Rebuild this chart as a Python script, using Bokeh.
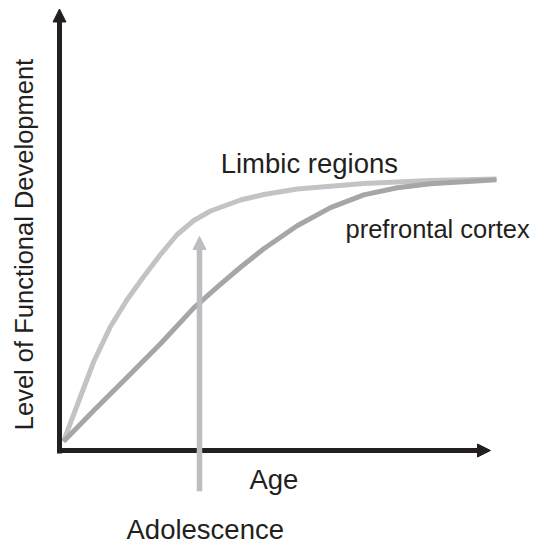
import math
from bokeh.plotting import figure
from bokeh.models import Range1d, Arrow, NormalHead, ColumnDataSource
from bokeh.core.properties import value
from bokeh.embed import file_html
from bokeh.resources import INLINE

# ---- data (age 0-100, level of functional development 0-100) ----
limbic_age = [0.93, 4.87, 7.96, 11.83, 15.71, 19.56, 23.43, 27.31, 31.16, 35.04,
              42.0, 47.4, 55.15, 70.6, 86.08, 101.39]
limbic_dev = [2.04, 12.23, 20.16, 28.09, 34.2, 39.41, 44.39, 48.92, 52.09, 54.25,
              56.74, 57.98, 59.23, 60.48, 61.16, 61.49]

pfc_age = [0.93, 7.96, 15.71, 23.43, 31.16, 36.59, 42.0, 47.4, 55.15, 62.88,
           70.6, 78.35, 86.08, 101.39]
pfc_dev = [2.04, 9.06, 16.6, 24.17, 32.3, 37.0, 41.5, 45.7, 50.9, 55.0,
           57.9, 59.5, 60.4, 61.3]

adolescence_age = 32.48
adolescence_from = -9.22
adolescence_to = 48.47

axis_max = 100

labels = ["Limbic regions", "prefrontal cortex", "Age", "Adolescence"]
label_x = [37.4, 66.36, 44.08, 15.55]
label_y = [64.93, 50.21, -6.64, -17.84]
label_size = ["27.5px", "25.5px", "27.5px", "27.5px"]
ylabel = "Level of Functional Development"

AXIS_COLOR = "#231f20"
TEXT_COLOR = "#231f20"
LIMBIC_COLOR = "#c3c3c5"
PFC_COLOR = "#a6a6a9"
ADOL_COLOR = "#bdbdc1"
FONT = "Liberation Sans"

p = figure(width=547, height=541, output_backend="svg", toolbar_location=None,
           x_range=Range1d(-13.689, 113.225), y_range=Range1d(-20.612, 101.925),
           x_axis_type=None, y_axis_type=None, min_border=0,
           min_border_left=0, min_border_right=0, min_border_top=0, min_border_bottom=0)
p.outline_line_color = None
p.xgrid.visible = False
p.ygrid.visible = False
p.background_fill_color = "white"
p.border_fill_color = "white"

# curves
p.line(limbic_age, limbic_dev, line_color=LIMBIC_COLOR, line_width=5, line_join="round")
p.line(pfc_age, pfc_dev, line_color=PFC_COLOR, line_width=5, line_join="round")

# axes as arrows
p.add_layout(Arrow(end=NormalHead(size=13, fill_color=AXIS_COLOR, line_color=AXIS_COLOR, line_width=1),
                   x_start=0, y_start=-0.68, x_end=0, y_end=axis_max,
                   line_color=AXIS_COLOR, line_width=5))
p.add_layout(Arrow(end=NormalHead(size=13, fill_color=AXIS_COLOR, line_color=AXIS_COLOR, line_width=1),
                   x_start=-0.58, y_start=0, x_end=axis_max, y_end=0,
                   line_color=AXIS_COLOR, line_width=5))

# adolescence arrow
p.add_layout(Arrow(end=NormalHead(size=13, fill_color=ADOL_COLOR, line_color=ADOL_COLOR, line_width=1),
                   x_start=adolescence_age, y_start=adolescence_from,
                   x_end=adolescence_age, y_end=adolescence_to,
                   line_color=ADOL_COLOR, line_width=5.5))

# labels
src = ColumnDataSource(dict(x=label_x, y=label_y, t=labels, s=label_size))
p.text(x="x", y="y", text="t", source=src, text_font=value(FONT), text_font_size="s",
       text_color=TEXT_COLOR, text_align="left", text_baseline="alphabetic")

p.text(x=[-8.35], y=[46.66], text=[ylabel], angle=math.pi / 2,
       text_font=value(FONT), text_font_size="25.5px", text_color=TEXT_COLOR,
       text_align="center", text_baseline="alphabetic")

open("out.html", "w").write(file_html(p, INLINE))
